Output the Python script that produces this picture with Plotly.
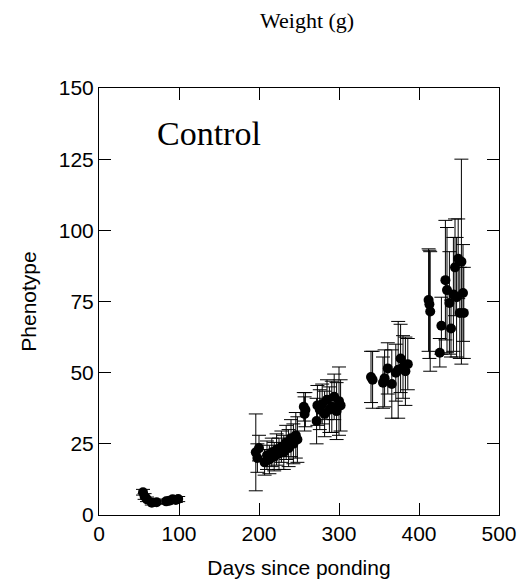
import plotly.graph_objects as go

# Days since ponding
days = [55, 57, 60, 66, 72, 84, 88, 92, 96, 99,
        196, 198, 200, 207, 210, 213, 216, 219, 222, 225, 228, 231, 234, 237, 240, 243, 246, 248,
        256, 257, 258, 272, 273, 276, 279, 282, 285, 288, 291, 294, 297, 300, 302,
        340, 342, 355, 357, 361, 366, 371, 374, 377, 380, 383, 386,
        412, 413, 414, 426, 428, 433, 435, 438, 440, 443, 445, 447, 449, 451, 453, 455, 456]
# Mean phenotype (weight, g)
weight = [8.0, 6.5, 5.5, 4.3, 4.5, 4.8, 5.0, 5.5, 5.3, 5.6,
          22.0, 20.0, 23.5, 18.5, 21.0, 19.5, 22.0, 20.5, 23.0, 21.5, 24.0, 22.0, 25.5, 23.5, 27.0, 25.0, 28.0, 26.5,
          38.0, 35.5, 37.0, 33.0, 38.5, 37.0, 39.0, 35.5, 40.5, 37.0, 38.0, 41.5, 36.5, 40.0, 38.5,
          48.5, 47.5, 46.5, 48.0, 51.5, 46.0, 50.0, 51.0, 55.0, 52.0, 50.5, 53.0,
          75.5, 74.0, 71.5, 57.0, 66.5, 82.5, 79.0, 74.5, 65.5, 77.5, 87.0, 76.5, 90.0, 71.0, 89.0, 78.0, 71.0]
# Error (half-width)
err = [1.0, 1.0, 0.8, 0.8, 0.7, 0.8, 0.8, 0.8, 0.9, 0.9,
       13.5, 5.0, 4.5, 4.5, 5.0, 5.0, 5.0, 5.0, 5.5, 5.5, 5.5, 6.0, 6.0, 6.5, 6.5, 7.0, 8.0, 8.0,
       5.0, 6.0, 6.0, 8.0, 7.0, 7.0, 7.0, 8.0, 7.0, 8.0, 9.0, 8.0, 10.0, 12.0, 9.0,
       9.0, 10.0, 9.0, 10.0, 9.0, 12.0, 10.0, 17.0, 12.0, 11.0, 12.0, 9.0,
       18.0, 19.0, 21.0, 5.0, 10.0, 21.0, 22.0, 18.0, 10.0, 20.0, 17.0, 21.0, 14.0, 16.0, 36.0, 17.0, 16.0]

x_ticks = [0, 100, 200, 300, 400, 500]
y_ticks = [0, 25, 50, 75, 100, 125, 150]

SANS = "Liberation Sans, Arial"
SERIF = "Liberation Serif, Times New Roman"

fig = go.Figure()
fig.add_trace(go.Scatter(
    x=days, y=weight, mode="markers",
    marker=dict(color="black", size=10),
    error_y=dict(type="data", array=err, visible=True, color="black", thickness=1, width=7),
    showlegend=False,
))

axis_common = dict(
    showline=True, linecolor="black", linewidth=1, mirror="ticks",
    ticks="inside", ticklen=12, tickcolor="black", tickwidth=1,
    showgrid=False, zeroline=False, automargin=False,
    tickfont=dict(family=SANS, size=21, color="black"),
)

fig.update_layout(
    width=520, height=585, autosize=False,
    margin=dict(l=99, r=21, t=88, b=70),
    plot_bgcolor="white", paper_bgcolor="white",
    xaxis=dict(range=[0, 500], tickvals=x_ticks,
               title=dict(text="Days since ponding", standoff=16,
                          font=dict(family=SANS, size=21, color="black")),
               **axis_common),
    yaxis=dict(range=[0, 150], tickvals=y_ticks,
               title=dict(text="Phenotype", standoff=16,
                          font=dict(family=SANS, size=21, color="black")),
               **axis_common),
    annotations=[
        dict(text="Weight (g)", xref="paper", yref="paper", x=0.52, y=1.0, yshift=68,
             showarrow=False, xanchor="center", yanchor="middle",
             font=dict(family=SERIF, size=22, color="black")),
        dict(text="Control", xref="x", yref="y", x=138, y=134,
             showarrow=False, xanchor="center", yanchor="middle",
             font=dict(family=SERIF, size=34, color="black")),
    ],
)

fig.write_html("out.html",
               config={"displayModeBar": False, "responsive": False},
               post_script="document.body.style.margin='0';document.body.style.padding='0';")
